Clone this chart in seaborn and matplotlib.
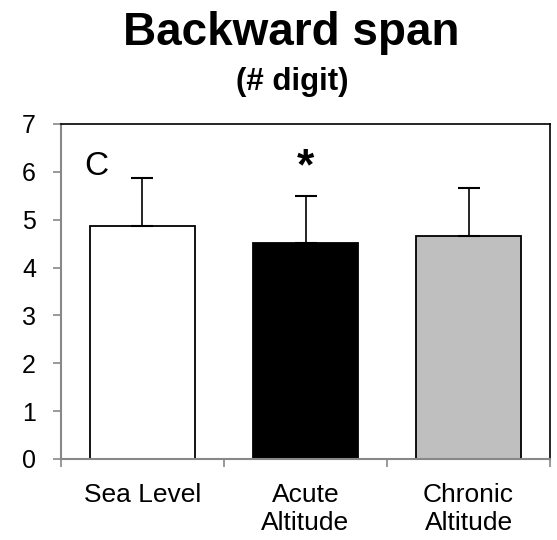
import matplotlib
matplotlib.use("Agg")
import matplotlib.pyplot as plt
import numpy as np
import pandas as pd
import seaborn as sns

# values
groups = ["Sea Level", "Acute\nAltitude", "Chronic\nAltitude"]
means = [4.87, 4.51, 4.66]
sem = [1.00, 0.99, 1.00]
bar_colors = ["#ffffff", "#000000", "#bfbfbf"]

sns.set_theme(style="white")
plt.rcParams['font.family'] = ['Liberation Sans', 'DejaVu Sans']
plt.rcParams['text.color'] = 'black'
plt.rcParams['xtick.labelcolor'] = 'black'
plt.rcParams['ytick.labelcolor'] = 'black'

df = pd.DataFrame({"group": groups, "mean": means})

fig = plt.figure(figsize=(5.57, 5.40), dpi=100)
ax = fig.add_axes([0.1095, 0.15, 0.878, 0.6204])

sns.barplot(data=df, x="group", y="mean", hue="group", palette=bar_colors,
            edgecolor="black", linewidth=1.3, width=0.64, legend=False, ax=ax)

# upper-only error bars
x = np.arange(len(groups))
ax.errorbar(x, means, yerr=[np.zeros(len(sem)), sem], fmt="none",
            ecolor="black", elinewidth=1.2, capsize=8, capthick=1.5)

ax.set_ylim(0, 7)
ax.set_xlim(-0.5, 2.5)
ax.set_yticks(range(0, 8))
ax.set_xlabel("")
ax.set_ylabel("")

for side in ["top", "right"]:
    ax.spines[side].set_color("black")
    ax.spines[side].set_linewidth(1.2)
for side in ["left", "bottom"]:
    ax.spines[side].set_color("#888888")
    ax.spines[side].set_linewidth(1.5)

ax.tick_params(axis="y", which="both", left=True, direction="out", length=6,
               color="#888888", width=1.2, labelsize=18, pad=12)
ax.tick_params(axis="x", which="major", bottom=False, labelsize=19, pad=11)
for lbl in ax.get_xticklabels():
    lbl.set_linespacing(1.24)
ax.set_xticks([-0.5, 0.5, 1.5, 2.5], minor=True)
ax.tick_params(axis="x", which="minor", bottom=True, direction="out", length=6,
               color="#888888", width=1.2)

ax.text(-0.36, 6.12, "C", fontsize=24, ha="left", va="center")
ax.text(1, 5.84, "*", fontsize=32, fontweight="bold", ha="center", va="baseline")

fig.text(0.522, 0.917, "Backward span", fontsize=33, fontweight="bold",
         ha="center", va="baseline")
fig.text(0.524, 0.833, "(# digit)", fontsize=22.5, fontweight="bold",
         ha="center", va="baseline")

fig.savefig("out.png", dpi=100)
